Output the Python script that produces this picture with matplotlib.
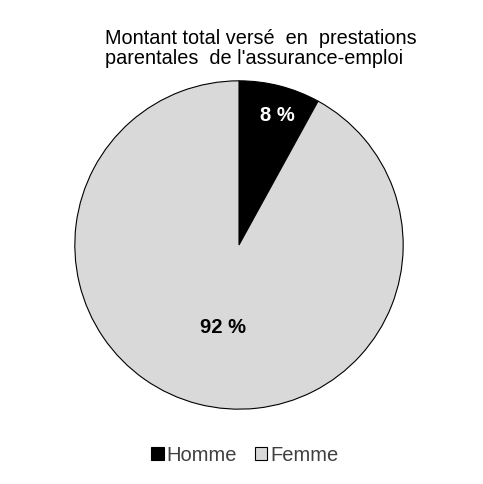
import matplotlib
matplotlib.use('Agg')
import matplotlib.pyplot as plt
import numpy as np
from matplotlib.patches import Patch

plt.rcParams['font.family'] = ['Liberation Sans', 'DejaVu Sans']

labels = ['Homme', 'Femme']
values = [8, 92]
colors = ['#000000', '#d9d9d9']
pct_text = ['8 %', '92 %']
text_colors = ['white', 'black']
label_radius = [0.82, 0.51]

fig = plt.figure(figsize=(4.83, 4.85), dpi=100)
ax = fig.add_axes([74 / 483, 74 / 485, 330 / 483, 330 / 485])

wedges, _ = ax.pie(values, colors=colors, startangle=90, counterclock=False,
                   radius=1, wedgeprops=dict(edgecolor='black', linewidth=0.8))
ax.set_xlim(-1.005, 1.005)
ax.set_ylim(-1.005, 1.005)
ax.set_aspect('equal')
ax.axis('off')

for w, t, c, r in zip(wedges, pct_text, text_colors, label_radius):
    ang = np.deg2rad((w.theta1 + w.theta2) / 2)
    ax.text(r * np.cos(ang) + 0.03, r * np.sin(ang), t, ha='center', va='center',
            color=c, fontsize=14.5, fontweight='bold')

fig.text(105 / 483, 1 - 29 / 485,
         'Montant total versé  en  prestations\nparentales  de l\'assurance-emploi',
         ha='left', va='top', fontsize=14.3, linespacing=1.05)

handles = [Patch(facecolor=c, edgecolor='black', linewidth=0.8) for c in colors]
fig.legend(handles, labels, loc='center', bbox_to_anchor=(245 / 483, 1 - 456 / 485),
           ncol=2, frameon=False, fontsize=14.5, handlelength=0.6, handleheight=0.6,
           handletextpad=0.15, columnspacing=0.9, labelcolor='#404040')

fig.savefig('out.png', dpi=100)
